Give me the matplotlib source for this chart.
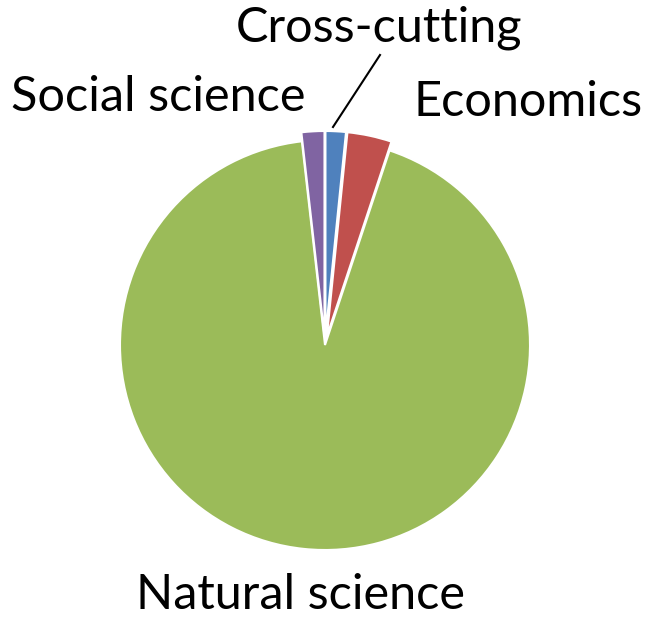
import matplotlib
matplotlib.use("Agg")
import matplotlib.pyplot as plt

# data
labels = ['Cross-cutting', 'Economics', 'Natural science', 'Social science']
shares = [1.6, 3.5, 93.1, 1.8]
colors = ['#4F81BD', '#C0504D', '#9BBB59', '#8064A2']

W, H = 649, 617
fig = plt.figure(figsize=(W / 100, H / 100), dpi=100)
ax = fig.add_axes([0, 0, 1, 1])

cx, cy, r = 325, H - 345, 205
# small slices pulled out a little, as in the original
ax.pie(shares, colors=colors, startangle=90, counterclock=False,
       center=(cx, cy), radius=r, frame=True, explode=[9, 9, 0, 9],
       wedgeprops=dict(edgecolor='white', linewidth=1.5))
ax.set_xlim(0, W)
ax.set_ylim(0, H)
ax.set_aspect('equal')
ax.axis('off')

fs = 35
fam = ['Lato', 'DejaVu Sans']
ax.text(379, H - 28, labels[0], ha='center', va='center', fontsize=fs, family=fam)
ax.text(528, H - 102, labels[1], ha='center', va='center', fontsize=fs, family=fam)
ax.text(300, H - 595, labels[2], ha='center', va='center', fontsize=fs, family=fam)
ax.text(158, H - 97, labels[3], ha='center', va='center', fontsize=fs, family=fam)
ax.plot([333, 380], [H - 127, H - 55], color='black', lw=1.5)

fig.savefig('out.png', dpi=100)
